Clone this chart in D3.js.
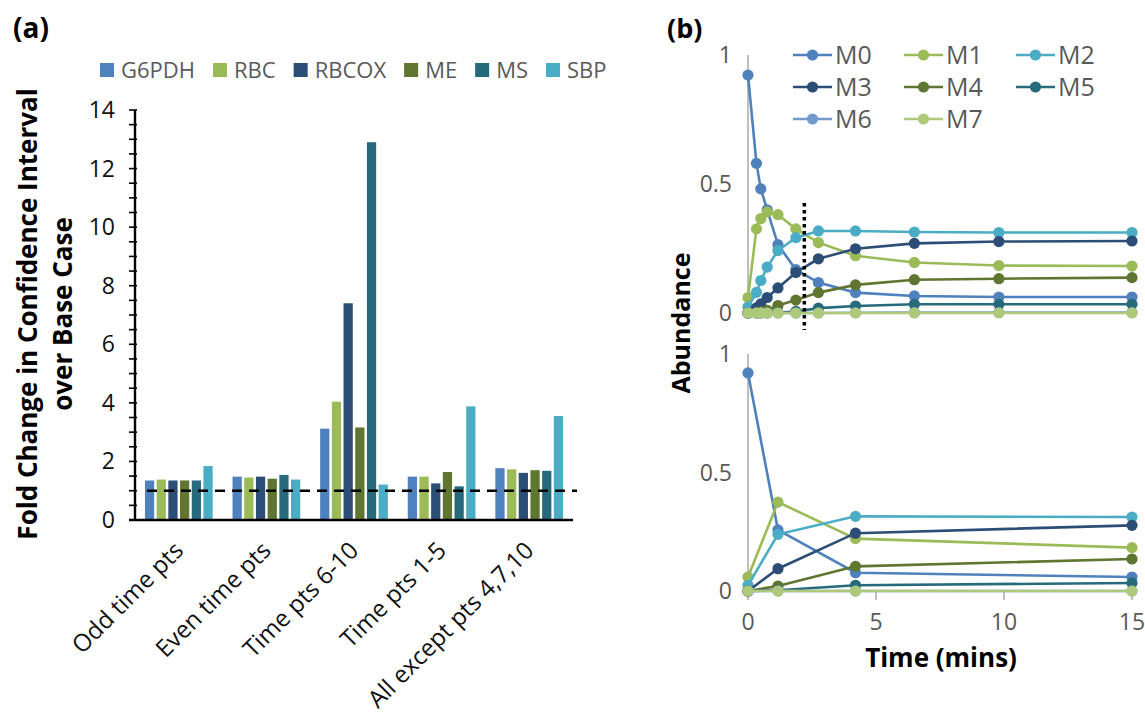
<!DOCTYPE html>
<html>
<head>
<meta charset="utf-8">
<script src="https://cdn.jsdelivr.net/npm/d3@7"></script>
<style>
  body { margin: 0; background: #fff; }
  svg { font-family: "Open Sans", sans-serif; }
</style>
</head>
<body>
<svg id="chart" width="1145" height="715"></svg>
<script>
// ---- panel (a) data ----
const categories = ["Odd time pts", "Even time pts", "Time pts 6-10", "Time pts 1-5", "All except pts 4,7,10"];
const enzymes = ["G6PDH", "RBC", "RBCOX", "ME", "MS", "SBP"];
const g6pdh = [1.35, 1.48, 3.12, 1.48, 1.77];
const rbc   = [1.38, 1.45, 4.04, 1.48, 1.73];
const rbcox = [1.35, 1.48, 7.40, 1.25, 1.61];
const me    = [1.35, 1.41, 3.16, 1.64, 1.70];
const ms    = [1.35, 1.54, 12.90, 1.15, 1.68];
const sbp   = [1.84, 1.38, 1.21, 3.88, 3.55];
const yTicksA = [0, 2, 4, 6, 8, 10, 12, 14];
const baseCase = 1;

// ---- panel (b) data ----
const isotopomers = ["M0", "M1", "M2", "M3", "M4", "M5", "M6", "M7"];
const timeTop = [0, 0.33, 0.5, 0.75, 1.17, 1.87, 2.75, 4.2, 6.5, 9.8, 15];
const m0Top = [0.922, 0.580, 0.481, 0.400, 0.265, 0.168, 0.118, 0.079, 0.066, 0.062, 0.062];
const m1Top = [0.060, 0.326, 0.366, 0.392, 0.381, 0.326, 0.273, 0.222, 0.196, 0.184, 0.182];
const m2Top = [0.023, 0.080, 0.126, 0.178, 0.242, 0.292, 0.318, 0.318, 0.314, 0.312, 0.312];
const m3Top = [0, 0.020, 0.035, 0.060, 0.097, 0.157, 0.210, 0.249, 0.270, 0.277, 0.279];
const m4Top = [0, 0.002, 0.005, 0.010, 0.029, 0.050, 0.079, 0.109, 0.129, 0.133, 0.137];
const m5Top = [0, 0, 0, 0.001, 0.002, 0.006, 0.019, 0.027, 0.034, 0.034, 0.034];
const m6Top = [0, 0, 0, 0, 0, 0, 0, 0.001, 0.002, 0.002, 0.002];
const m7Top = [0, 0, 0, 0, 0, 0, 0, 0, 0, 0, 0];
const timeBottom = [0, 1.17, 4.2, 15];
const m0Bot = [0.920, 0.258, 0.077, 0.059];
const m1Bot = [0.059, 0.375, 0.221, 0.183];
const m2Bot = [0.024, 0.239, 0.315, 0.312];
const m3Bot = [0, 0.094, 0.244, 0.277];
const m4Bot = [0, 0.021, 0.104, 0.135];
const m5Bot = [0, 0.003, 0.024, 0.034];
const m6Bot = [0, 0, 0, 0];
const m7Bot = [0, 0, 0, 0];
const yTicksB = [0, 0.5, 1];
const xTicksB = [0, 5, 10, 15];
const cutoffTime = 2.2;

const barColors = ["#4f81bd", "#9bbb59", "#2c4d75", "#5f7530", "#276a7c", "#4bacc6"];
const lineColors = ["#4f81bd", "#9bbb59", "#4bacc6", "#2c4d75", "#5f7530", "#276a7c", "#729aca", "#afc97a"];

const svg = d3.select("#chart");

// ================= panel (a) =================
const barData = [g6pdh, rbc, rbcox, me, ms, sbp];
const a = {left: 135, right: 573, top: 110, bottom: 520};

const x0 = d3.scaleBand().domain(categories).range([a.left, a.right])
    .paddingInner(0.227).paddingOuter(0.1135);
const x1 = d3.scaleBand().domain(enzymes).range([0, x0.bandwidth()])
    .paddingInner(0.21).paddingOuter(0);
const yA = d3.scaleLinear().domain([0, 14]).range([a.bottom, a.top]);

svg.append("text").attr("x", 13).attr("y", 38)
    .style("font-weight", "bold").style("font-size", "28px").text("(a)");

// bars
categories.forEach(function(cat, ci) {
    let g = svg.append("g").attr("transform", "translate(" + x0(cat) + ",0)");
    enzymes.forEach(function(en, si) {
        g.append("rect")
            .attr("x", x1(en))
            .attr("y", yA(barData[si][ci]))
            .attr("width", x1.bandwidth())
            .attr("height", yA(0) - yA(barData[si][ci]))
            .attr("fill", barColors[si]);
    });
});

// dashed base case line
svg.append("line")
    .attr("x1", 147).attr("x2", 577)
    .attr("y1", yA(baseCase)).attr("y2", yA(baseCase))
    .attr("stroke", "#000").attr("stroke-width", 2.5)
    .attr("stroke-dasharray", "10,7");

// y axis with minor ticks every 0.5
let yAxisA = svg.append("g");
yAxisA.append("line").attr("x1", a.left).attr("x2", a.left)
    .attr("y1", a.bottom).attr("y2", a.top)
    .attr("stroke", "#000").attr("stroke-width", 2.4);
d3.range(0, 14.01, 0.5).forEach(function(v) {
    yAxisA.append("line").attr("x1", a.left - 6).attr("x2", a.left + 2)
        .attr("y1", yA(v)).attr("y2", yA(v))
        .attr("stroke", "#000").attr("stroke-width", 1.6);
});
yAxisA.selectAll("text.tick").data(yTicksA).enter().append("text")
    .attr("x", 115).attr("y", d => yA(d)).attr("dy", "0.35em")
    .attr("text-anchor", "end").style("font-size", "23px").attr("fill", "#111")
    .text(d => d);

// x axis
svg.append("line").attr("x1", a.left - 6).attr("x2", a.right)
    .attr("y1", a.bottom).attr("y2", a.bottom)
    .attr("stroke", "#000").attr("stroke-width", 2.4);

svg.selectAll("text.cat").data(categories).enter().append("text")
    .attr("class", "cat")
    .attr("text-anchor", "end")
    .style("font-size", "24px").attr("fill", "#111")
    .attr("transform", d => "translate(" + (x0(d) + x0.bandwidth() / 2 + 6) + "," + (a.bottom + 32) + ") rotate(-45)")
    .text(d => d);

// y title
svg.append("text")
    .attr("transform", "translate(37,314) rotate(-90)")
    .attr("text-anchor", "middle").style("font-weight", "bold").style("font-size", "26px")
    .text("Fold Change in Confidence Interval");
svg.append("text")
    .attr("transform", "translate(72,314) rotate(-90)")
    .attr("text-anchor", "middle").style("font-weight", "bold").style("font-size", "26px")
    .text("over Base Case");

// legend (a)
let lx = 100;
enzymes.forEach(function(en, i) {
    svg.append("rect").attr("x", lx).attr("y", 63).attr("width", 14).attr("height", 14)
        .attr("fill", barColors[i]);
    let t = svg.append("text").attr("x", lx + 21).attr("y", 70).attr("dy", "0.35em")
        .style("font-size", "22px").attr("fill", "#595959").text(en);
    lx += 21 + t.node().getComputedTextLength() + 18;
});

// ================= panel (b) =================
const xB = d3.scaleLinear().domain([0, 15]).range([748, 1132]);
const yTop = d3.scaleLinear().domain([0, 1]).range([313, 55]);
const yBot = d3.scaleLinear().domain([0, 1]).range([591, 354]);

svg.append("text").attr("x", 667).attr("y", 38)
    .style("font-weight", "bold").style("font-size", "27px").text("(b)");

function drawPanel(yS, times, series, showX) {
    let g = svg.append("g");
    g.append("line").attr("x1", xB(0)).attr("x2", xB(0))
        .attr("y1", yS(0)).attr("y2", yS(1))
        .attr("stroke", "#bfbfbf").attr("stroke-width", 2);
    g.append("line").attr("x1", xB(0)).attr("x2", xB(15))
        .attr("y1", yS(0)).attr("y2", yS(0))
        .attr("stroke", "#bfbfbf").attr("stroke-width", 2);
    g.selectAll("text.yt").data(yTicksB).enter().append("text")
        .attr("x", 732).attr("y", d => yS(d)).attr("dy", "0.35em")
        .attr("text-anchor", "end").style("font-size", "23px").attr("fill", "#595959")
        .text(d => d);
    if (showX) {
        xTicksB.forEach(function(t) {
            g.append("line").attr("x1", xB(t)).attr("x2", xB(t))
                .attr("y1", yS(0)).attr("y2", yS(0) + 9)
                .attr("stroke", "#bfbfbf").attr("stroke-width", 2);
        });
        g.selectAll("text.xt").data(xTicksB).enter().append("text")
            .attr("x", d => xB(d)).attr("y", 622).attr("dy", "0.35em")
            .attr("text-anchor", "middle").style("font-size", "23px").attr("fill", "#595959")
            .text(d => d);
    }
    let line = d3.line().x(d => xB(d[0])).y(d => yS(d[1]));
    series.forEach(function(vals, i) {
        let pts = times.map((t, k) => [t, vals[k]]);
        g.append("path").datum(pts).attr("d", line)
            .attr("fill", "none").attr("stroke", lineColors[i]).attr("stroke-width", 2.6);
        g.selectAll(null).data(pts).enter().append("circle")
            .attr("cx", d => xB(d[0])).attr("cy", d => yS(d[1])).attr("r", 5.6)
            .attr("fill", lineColors[i]);
    });
}

drawPanel(yTop, timeTop, [m0Top, m1Top, m2Top, m3Top, m4Top, m5Top, m6Top, m7Top], false);
drawPanel(yBot, timeBottom, [m0Bot, m1Bot, m2Bot, m3Bot, m4Bot, m5Bot, m6Bot, m7Bot], true);

// dotted cutoff line
svg.append("line")
    .attr("x1", xB(cutoffTime)).attr("x2", xB(cutoffTime))
    .attr("y1", 203).attr("y2", 330)
    .attr("stroke", "#000").attr("stroke-width", 3.5)
    .attr("stroke-dasharray", "3.5,3.5");

// legend (b)
const legCols = [793, 904, 1016];
const legRows = [55, 87, 119];
isotopomers.forEach(function(name, i) {
    let cx = legCols[i % 3], cy = legRows[Math.floor(i / 3)];
    svg.append("line").attr("x1", cx).attr("x2", cx + 39).attr("y1", cy).attr("y2", cy)
        .attr("stroke", lineColors[i]).attr("stroke-width", 2.6);
    svg.append("circle").attr("cx", cx + 19.5).attr("cy", cy).attr("r", 5.6).attr("fill", lineColors[i]);
    svg.append("text").attr("x", cx + 42).attr("y", cy).attr("dy", "0.35em")
        .style("font-size", "25px").attr("fill", "#595959").text(name);
});

// axis titles (b)
svg.append("text")
    .attr("transform", "translate(690,323) rotate(-90)")
    .attr("text-anchor", "middle").style("font-weight", "bold").style("font-size", "25px")
    .text("Abundance");
svg.append("text").attr("x", 941).attr("y", 667)
    .attr("text-anchor", "middle").style("font-weight", "bold").style("font-size", "26px")
    .text("Time (mins)");
</script>
</body>
</html>
